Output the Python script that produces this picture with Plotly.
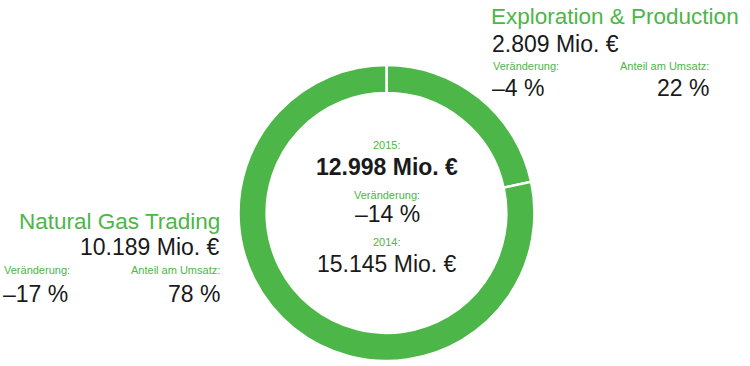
import plotly.graph_objects as go

segments = ["Exploration & Production", "Natural Gas Trading"]
values = [2809, 10189]
value_labels = ["2.809 Mio. €", "10.189 Mio. €"]
changes = ["–4 %", "–17 %"]
shares = ["22 %", "78 %"]
total_2015 = "12.998 Mio. €"
total_2014 = "15.145 Mio. €"
total_change = "–14 %"

GREEN = "#4cb648"
DARK = "#1a1a1a"
FONT = "Liberation Sans, Arial, Helvetica, sans-serif"
W, H = 750, 366


def px_x(x):
    return x / W


def px_y(y):
    return 1 - y / H


fig = go.Figure(go.Pie(
    labels=segments, values=values, sort=False, direction="clockwise", rotation=0,
    hole=0.81, marker=dict(colors=[GREEN, GREEN], line=dict(color="white", width=2.5)),
    textinfo="none", hoverinfo="label+value", showlegend=False,
    domain=dict(x=[px_x(238.5), px_x(534.5)], y=[px_y(361), px_y(65)]),
))


def ann(text, x, y, size, color, xanchor, bold=False):
    fig.add_annotation(
        text=f"<b>{text}</b>" if bold else text, x=px_x(x), y=px_y(y),
        xref="paper", yref="paper", xanchor=xanchor, yanchor="middle",
        showarrow=False, font=dict(family=FONT, size=size, color=color))


# Exploration & Production (top right)
ann(segments[0], 489, 16, 22.5, GREEN, "left")
ann(value_labels[0], 490, 44, 23, DARK, "left")
ann("Veränderung:", 491, 66, 11, GREEN, "left")
ann("Anteil am Umsatz:", 711, 66, 11, GREEN, "right")
ann(changes[0], 490, 88, 23, DARK, "left")
ann(shares[0], 711, 88, 23, DARK, "right")

# Natural Gas Trading (left)
ann(segments[1], 222, 221, 22.5, GREEN, "right")
ann(value_labels[1], 222, 247, 23, DARK, "right")
ann("Veränderung:", 2, 270, 11, GREEN, "left")
ann("Anteil am Umsatz:", 222, 270, 11, GREEN, "right")
ann(changes[1], 1, 294, 23, DARK, "left")
ann(shares[1], 222, 294, 23, DARK, "right")

# Center
ann("2015:", 387, 145, 11, GREEN, "center")
ann(total_2015, 387, 167, 23, DARK, "center", bold=True)
ann("Veränderung:", 387, 195, 11, GREEN, "center")
ann(total_change, 387, 214, 23, DARK, "center")
ann("2014:", 387, 242, 11, GREEN, "center")
ann(total_2014, 387, 264, 23, DARK, "center")

fig.update_layout(width=W, height=H, margin=dict(l=0, r=0, t=0, b=0),
                  paper_bgcolor="white", plot_bgcolor="white")
fig.write_html("out.html", config={"displayModeBar": False},
               post_script="document.body.style.margin='0';")
